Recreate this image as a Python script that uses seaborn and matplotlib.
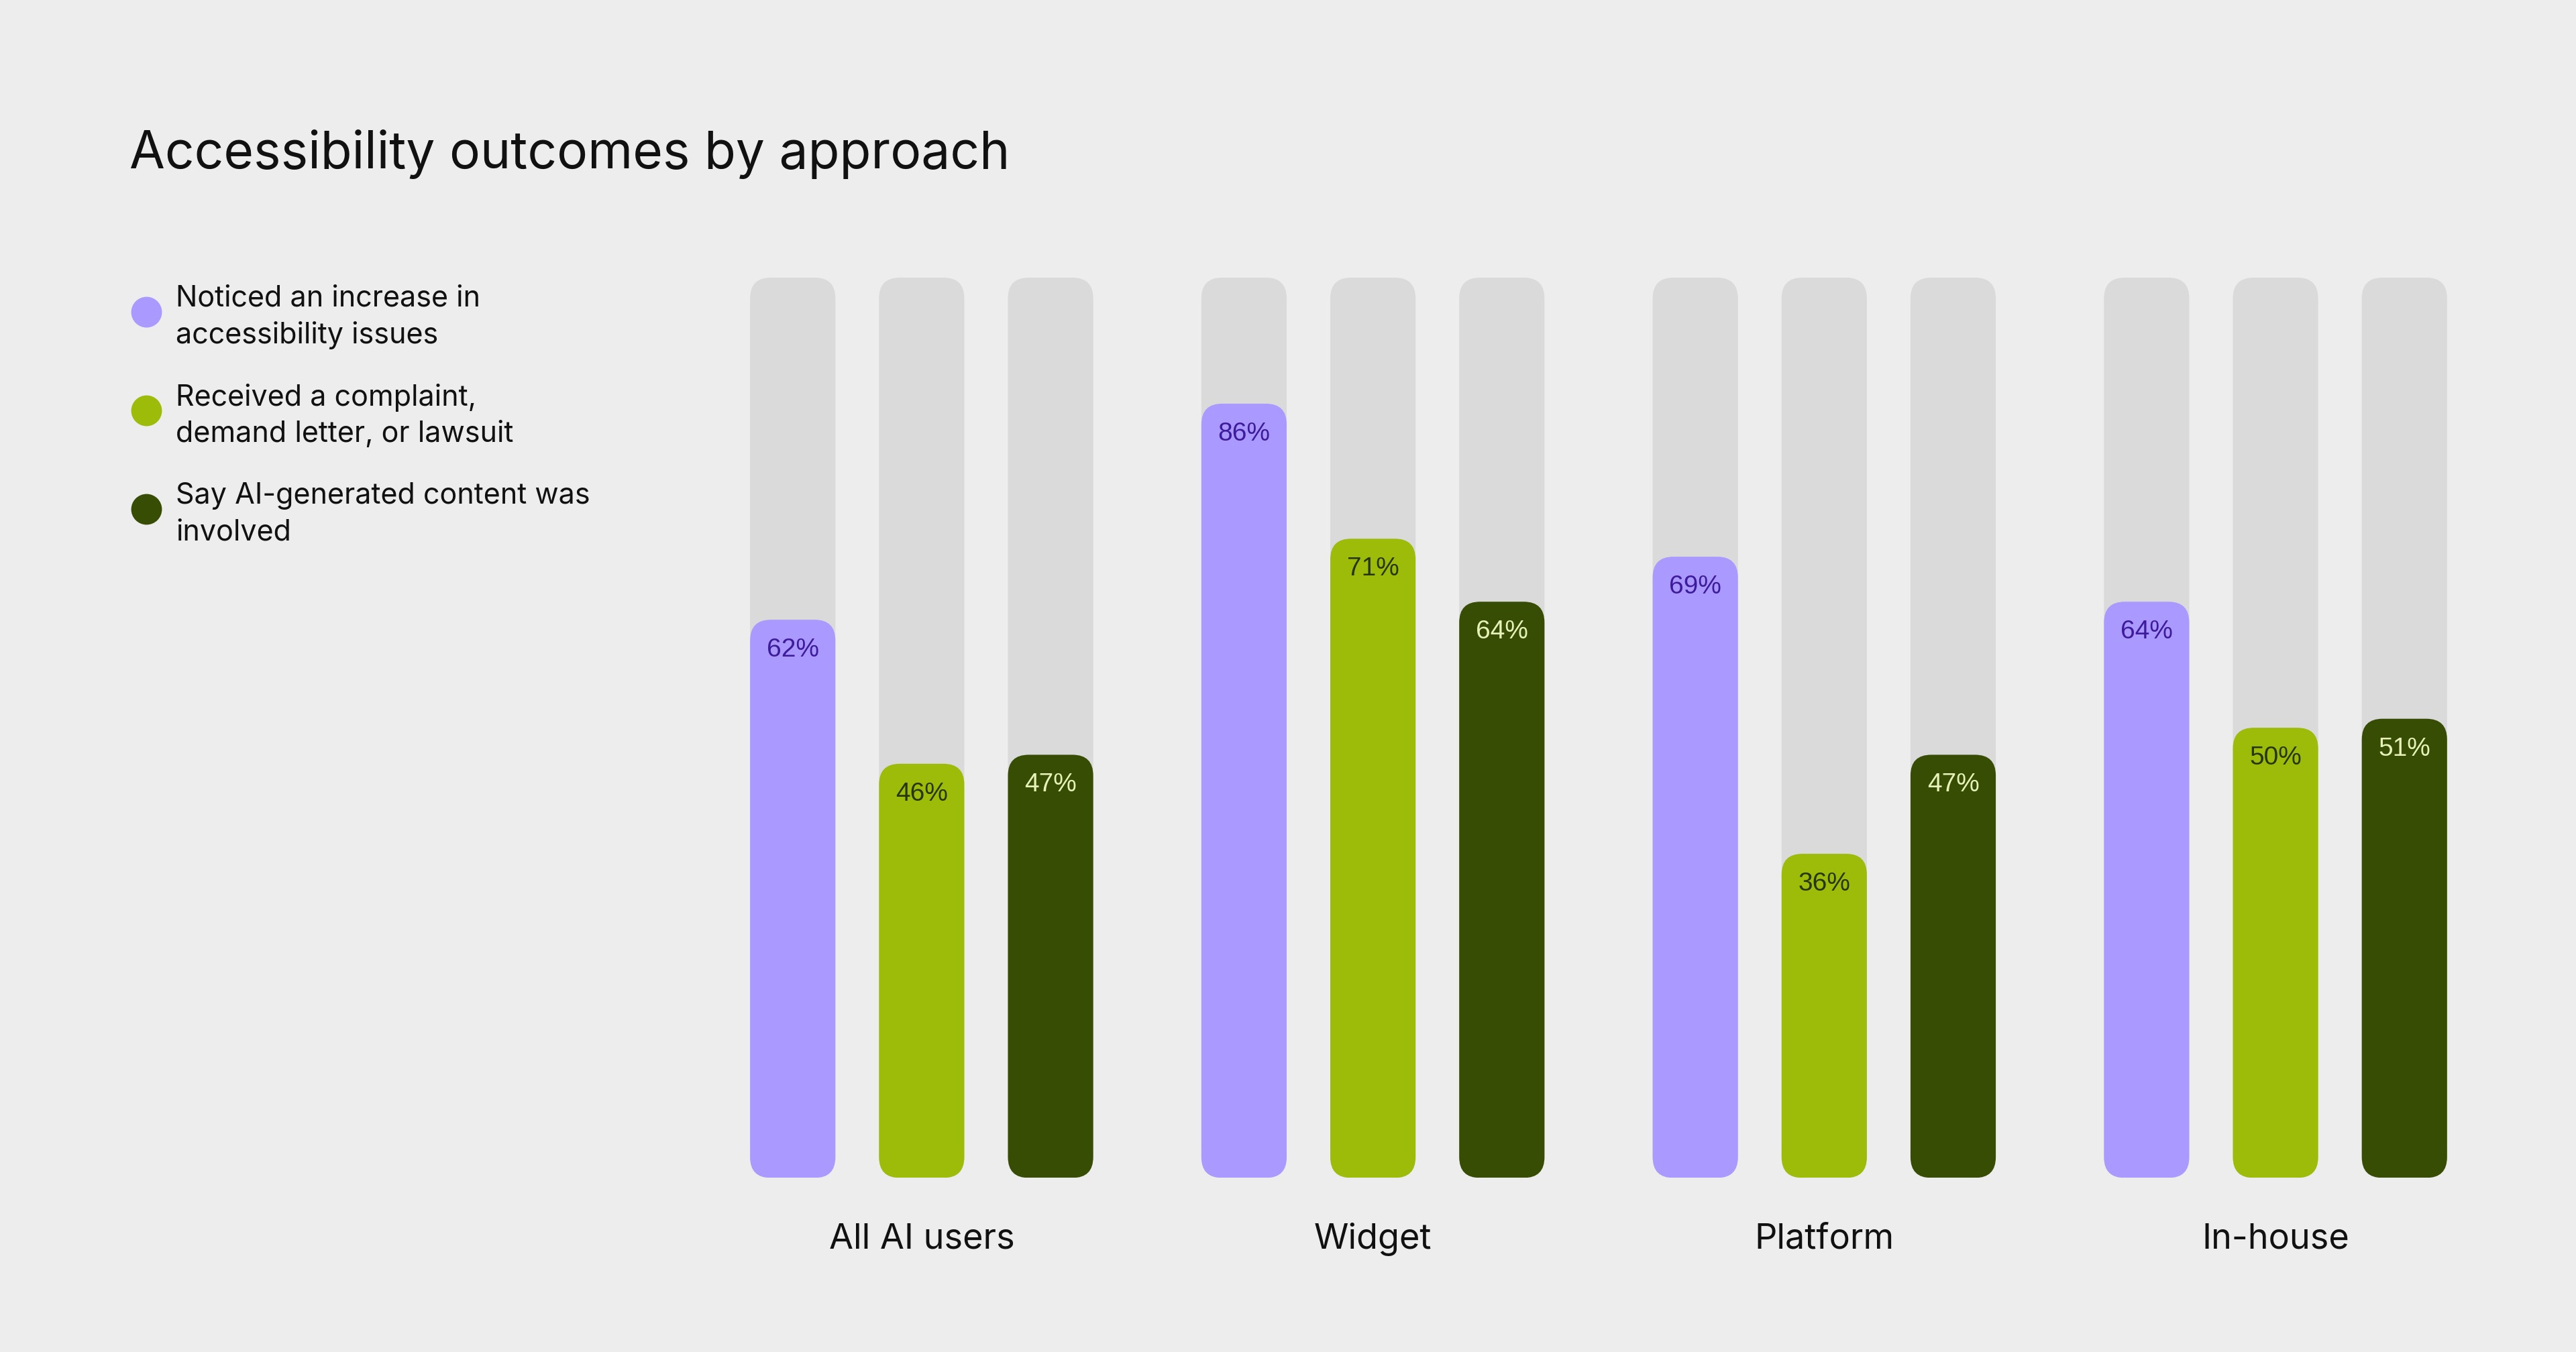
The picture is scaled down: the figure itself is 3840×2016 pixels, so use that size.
import numpy as np
import pandas as pd
import seaborn as sns
import matplotlib.pyplot as plt
from matplotlib.patches import FancyBboxPatch
from matplotlib.lines import Line2D

# Chart data
approaches = ['All AI users', 'Widget', 'Platform', 'In-house']
metrics = ['Noticed an increase in\naccessibility issues',
           'Received a complaint,\ndemand letter, or lawsuit',
           'Say AI-generated content was\ninvolved']
noticed = [62, 86, 69, 64]
complaint = [46, 71, 36, 50]
ai_content = [47, 64, 47, 51]

bar_colors = ['#AA99FF', '#9DBC0A', '#374D04']
label_colors = ['#3E1A9C', '#27350A', '#E6F2B8']
track_color = '#DADADA'
bg = '#EDEDED'

df = pd.DataFrame({
    'approach': approaches * 3,
    'metric': np.repeat(metrics, len(approaches)),
    'value': noticed + complaint + ai_content,
})
track = df.assign(value=100)

sns.set_theme(style='white')
plt.rcParams['font.family'] = ['Inter', 'DejaVu Sans']

fig = plt.figure(figsize=(19.2, 10.08), dpi=200, facecolor=bg)
ax = fig.add_axes([440 / 1568, 1 - 717 / 823, 1070 / 1568, 548 / 823])
ax.set_facecolor(bg)

# grey tracks, then the actual values on top
sns.barplot(data=track, x='approach', y='value', hue='metric', hue_order=metrics,
            palette=[track_color] * 3, width=0.857, saturation=1, errorbar=None,
            legend=False, ax=ax)
sns.barplot(data=df, x='approach', y='value', hue='metric', hue_order=metrics,
            palette=bar_colors, width=0.857, saturation=1, errorbar=None,
            legend=False, ax=ax)

ax.set_xlim(-0.4405, 3.4547)
ax.set_ylim(0, 100)

# swap the plain rectangles for rounded ones
x_per_px = (ax.get_xlim()[1] - ax.get_xlim()[0]) / ax.bbox.width
y_per_px = (ax.get_ylim()[1] - ax.get_ylim()[0]) / ax.bbox.height
aspect = y_per_px / x_per_px
bar_w = 0.189
radius = 0.046

for ci, cont in enumerate(ax.containers):
    for rect in cont.patches:
        cx = rect.get_x() + rect.get_width() / 2
        h = rect.get_height()
        color = rect.get_facecolor()
        rect.remove()
        ax.add_patch(FancyBboxPatch((cx - bar_w / 2, 0), bar_w, h,
                                    boxstyle=f'round,pad=0,rounding_size={radius}',
                                    mutation_aspect=aspect, fc=color, ec='none'))
        if ci >= 3:
            k = ci - 3
            ax.text(cx, h - 45 * y_per_px, f'{h:.0f}%', ha='center', va='center',
                    fontsize=14, color=label_colors[k],
                    family=['Liberation Sans', 'DejaVu Sans'])

sns.despine(ax=ax, left=True, bottom=True)
ax.set_xlabel('')
ax.set_ylabel('')
ax.set_yticks([])
ax.tick_params(axis='x', length=0, pad=24, labelsize=18.8, labelcolor='#111111')

# title
fig.text(79 / 1568, 1 - 94 / 823, 'Accessibility outcomes by approach',
         fontsize=27.6, va='center', ha='left', color='#111111')

# legend
legend_y = [191, 251, 311]
for lab, col, yy in zip(metrics, bar_colors, legend_y):
    fig.add_artist(Line2D([89 / 1568], [1 - (yy - 1) / 823], marker='o', ms=15.5,
                          color=col, lw=0, transform=fig.transFigure))
    fig.text(107 / 1568, 1 - (yy + 2) / 823, lab, fontsize=15.5, va='center', ha='left',
             linespacing=1.42, color='#111111')

fig.savefig('out.png', dpi=200, facecolor=bg)
